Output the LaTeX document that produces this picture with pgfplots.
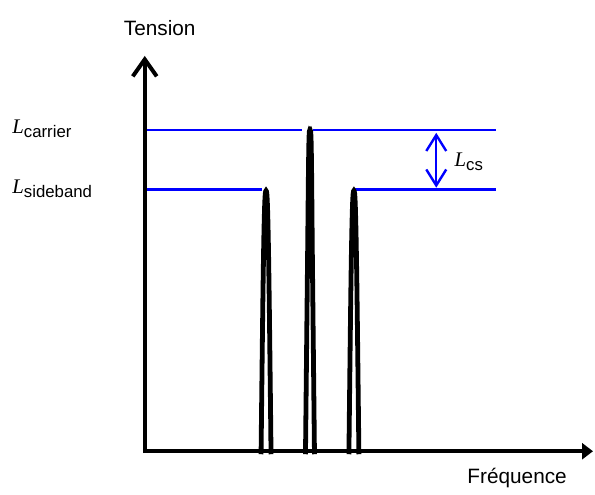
\documentclass[border=0pt]{standalone}
\usepackage{pgfplots}
\pgfplotsset{compat=1.18}
\usetikzlibrary{arrows.meta}
\usepackage{fontspec}
\setmainfont{Liberation Sans}
\newfontfamily\serif{Liberation Serif}
\definecolor{lineblue}{RGB}{0,0,255}
\newcommand{\sub}[1]{\raisebox{-2pt}{\fontsize{8.4}{10}\selectfont #1}}
\begin{document}
\begin{tikzpicture}
\begin{axis}[
  width=297.5pt, height=243.5pt, scale only axis,
  xmin=0, xmax=595, ymin=0, ymax=487,
  hide axis, clip=false,
  font=\fontsize{10.4}{12}\selectfont,
]
\path (axis cs:0,0) rectangle (axis cs:595,487);
% axes
\addplot[black, line width=2pt, -{Straight Barb[length=8.5pt,width=12pt,line width=2pt]}] coordinates {(145,33) (145,431)};
\addplot[black, line width=2pt, -{Triangle[length=5.5pt,width=8pt]}] coordinates {(143,35) (594,35)};
% blue level lines
\addplot[lineblue, line width=1.2pt] coordinates {(147,357) (303,357)};
\addplot[lineblue, line width=1.2pt] coordinates {(314,357) (497,357)};
\addplot[lineblue, line width=1.2pt] coordinates {(147,297) (262,297)};
\addplot[lineblue, line width=1.2pt] coordinates {(355,297) (497,297)};
% double arrow
\addplot[lineblue, line width=1.2pt, {Straight Barb[length=8pt,width=10pt,line width=1.2pt]}-{Straight Barb[length=8pt,width=10pt,line width=1.2pt]}] coordinates {(437,354) (437,299)};
% peaks
\addplot[black, line width=2.4pt, smooth, tension=0.6] coordinates {(261.5,32) (263.5,200) (265,278) (266.5,296) (268,278) (269.5,200) (271.5,32)};
\addplot[black, line width=2.4pt, smooth, tension=0.6] coordinates {(306,32) (308,220) (309.3,338) (310.5,356) (311.8,338) (313,220) (315,32)};
\addplot[black, line width=2.4pt, smooth, tension=0.6] coordinates {(349.5,32) (351.5,200) (353,278) (354.5,296) (356,278) (357.5,200) (359.5,32)};
% labels
\node[anchor=center] at (axis cs:160,459) {Tension};
\node[anchor=center] at (axis cs:518,8) {Fréquence};
\node[anchor=west, inner sep=0pt] at (axis cs:12,358) {{\serif\itshape L}\sub{carrier}};
\node[anchor=west, inner sep=0pt] at (axis cs:12,298) {{\serif\itshape L}\sub{sideband}};
\node[anchor=west, inner sep=0pt] at (axis cs:455,325) {{\serif\itshape L}\sub{cs}};
\end{axis}
\end{tikzpicture}
\end{document}
